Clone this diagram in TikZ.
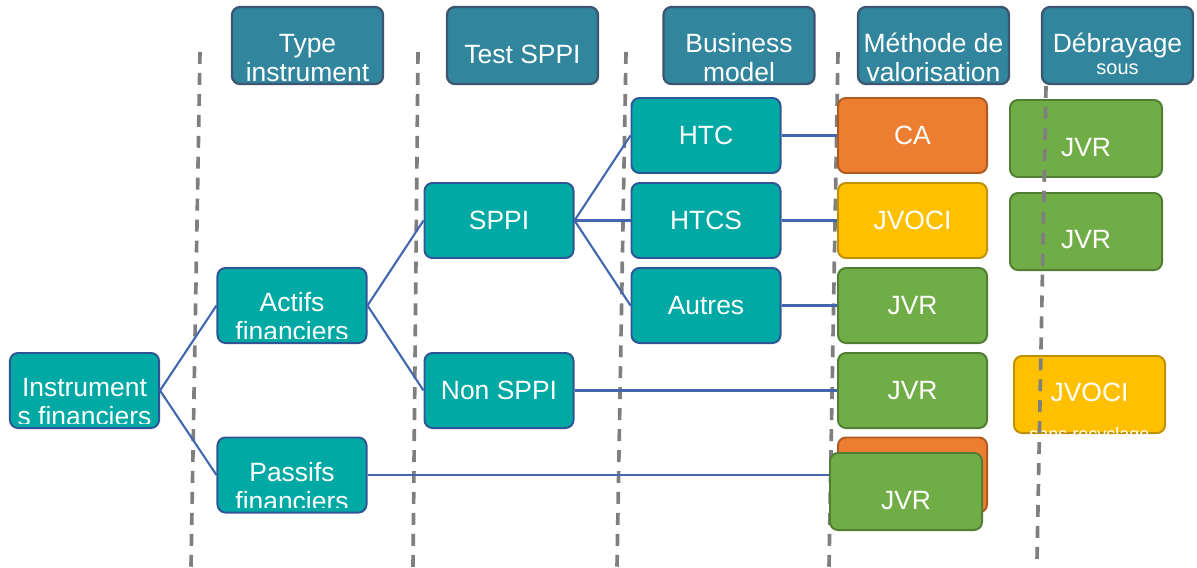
\documentclass[tikz,border=0pt]{standalone}
\usepackage{fontspec}
\setmainfont{Liberation Sans}
\usetikzlibrary{calc}

\definecolor{hdrfill}{HTML}{31859C}
\definecolor{hdrline}{HTML}{3E5570}
\definecolor{tealfill}{HTML}{00A9A4}
\definecolor{tealline}{HTML}{2F5597}
\definecolor{linkblue}{HTML}{4267AE}
\definecolor{orgfill}{HTML}{ED7D31}
\definecolor{orgline}{HTML}{AE5A21}
\definecolor{ylwfill}{HTML}{FFC000}
\definecolor{ylwline}{HTML}{BF9000}
\definecolor{grnfill}{HTML}{70AD47}
\definecolor{grnline}{HTML}{507E32}
\definecolor{divgray}{HTML}{7F7F7F}

% text cut off by the box it sits in (optional: bottom inset)
\newcommand\boxlabel[4][5]{%
  \begin{scope}
    \clip[rounded corners=0.15cm] ($(#2.south west)+(2,-#1)$) rectangle ($(#2.north east)+(-2,2)$);
    \node[txt] (#2-t) at #3 {#4};
  \end{scope}}

\begin{document}
\begin{tikzpicture}[x=0.025cm,y=-0.025cm,
	txt/.style={text=white,align=center,inner sep=0pt,font=\fontsize{18.8}{20.6}\selectfont},
	card/.style={rounded corners=0.2cm,line width=1.4pt,minimum width=3.725cm,minimum height=1.875cm,inner sep=0pt,text=white,font=\fontsize{18.8}{20.6}\selectfont},
	hdrbox/.style={card,fill=hdrfill,draw=hdrline,line width=1.6pt,minimum width=3.775cm,minimum height=1.925cm},
	flowbox/.style={card,fill=tealfill,draw=tealline},
	orangebox/.style={card,fill=orgfill,draw=orgline},
	yellowbox/.style={card,fill=ylwfill,draw=ylwline},
	greenbox/.style={card,fill=grnfill,draw=grnline},
	link/.style={draw=linkblue,line width=1.5pt},
	divider/.style={draw=divgray,line width=2.6pt,dash pattern=on 8.5pt off 6.4pt}]
	\useasboundingbox (0,0) rectangle (1197,567);

	\draw[divider] (200,52) -- (191,567);
	\draw[divider] (418,52) -- (413,567);
	\draw[divider] (626,52) -- (617,567);
	\draw[divider] (838,52) -- (829,567);

	\node[hdrbox] (hType) at (307.5,45.5) {};
	\node[hdrbox] (hSppi) at (522.5,45.5) {};
	\node[hdrbox] (hModel) at (739,45.5) {};
	\node[hdrbox] (hMethod) at (933.5,45.5) {};
	\node[hdrbox] (hDebr) at (1117.5,45.5) {};
	\boxlabel[4]{hType}{(307.5,58)}{Type\\instrument}
	\boxlabel{hSppi}{(522.5,54)}{Test SPPI}
	\boxlabel[4]{hModel}{(739,58)}{Business\\model}
	\boxlabel[4]{hMethod}{(933.5,57.5)}{Méthode de\\valorisation}
	\boxlabel{hDebr}{(1117.5,54)}{Débrayage\\[-4.6pt]{\fontsize{14.2}{16}\selectfont sous}}

	\node[flowbox] (inst) at (84.5,390.5) {};
	\node[flowbox] (actifs) at (292,305.5) {};
	\node[flowbox] (passifs) at (292,475) {};
	\node[flowbox] (sppi) at (499,220.5) {SPPI};
	\node[flowbox] (nonsppi) at (499,390.5) {Non SPPI};
	\node[flowbox] (htc) at (706,135.5) {HTC};
	\node[flowbox] (htcs) at (706,220.5) {HTCS};
	\node[flowbox] (autres) at (706,305.5) {Autres};
	\boxlabel[6]{inst}{(84.5,402)}{Instrument\\s financiers}
	\boxlabel[6]{actifs}{(292,316.5)}{Actifs\\financiers}
	\boxlabel[6]{passifs}{(292,487)}{Passifs\\financiers}

	\node[orangebox] (ca) at (912.5,135.5) {CA};
	\node[yellowbox] (jvoci) at (912.5,220.5) {JVOCI};
	\node[greenbox] (jvrA) at (912.5,305.5) {JVR};
	\node[greenbox] (jvrB) at (912.5,390.5) {JVR};
	\node[orangebox] (caBack) at (912.5,475) {};
	\node[greenbox,minimum width=3.8cm,minimum height=1.925cm] (jvrC) at (906,491.5) {};
	\boxlabel{jvrC}{(906,501)}{JVR}

	\node[greenbox,minimum width=3.8cm,minimum height=1.925cm] (debA) at (1086,138.5) {};
	\node[greenbox,minimum width=3.8cm,minimum height=1.925cm] (debB) at (1086,231.5) {};
	\node[yellowbox,minimum width=3.775cm,minimum height=1.925cm] (debC) at (1089.5,394.5) {};
	\boxlabel{debA}{(1086,148)}{JVR}
	\boxlabel{debB}{(1086,240)}{JVR}
	\boxlabel[0]{debC}{(1089.5,413.5)}{JVOCI\\[7.5pt]{\fontsize{12.8}{15}\selectfont sans recyclage}}
	\draw[divider] (1046,86) -- (1037,560);

	\draw[link] (inst.east) -- (actifs.west);
	\draw[link] (inst.east) -- (passifs.west);
	\draw[link] (actifs.east) -- (sppi.west);
	\draw[link] (actifs.east) -- (nonsppi.west);
	\draw[link] (sppi.east) -- (htc.west);
	\draw[link] (sppi.east) -- (htcs.west);
	\draw[link] (sppi.east) -- (autres.west);
	\draw[link] (htc.east) -- (ca.west);
	\draw[link] (htcs.east) -- (jvoci.west);
	\draw[link] (autres.east) -- (jvrA.west);
	\draw[link] (nonsppi.east) -- (jvrB.west);
	\draw[link] (passifs.east) -- (passifs.east -| jvrC.west);
\end{tikzpicture}
\end{document}
